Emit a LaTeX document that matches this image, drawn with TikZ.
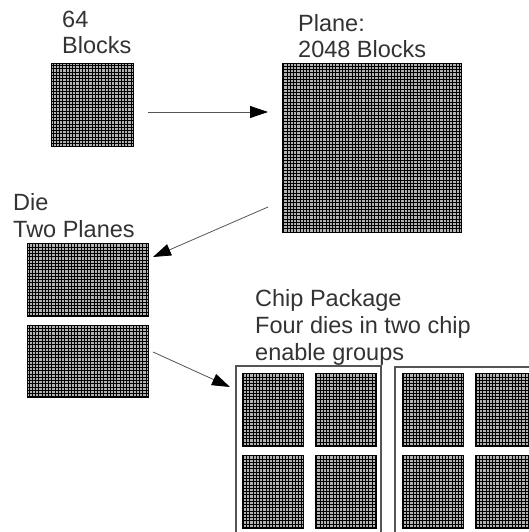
\documentclass[tikz,border=0pt]{standalone}
\usepackage{fontspec}
\setmainfont{Liberation Sans}
\usetikzlibrary{arrows.meta}
\definecolor{txt}{HTML}{333333}
\definecolor{ln}{HTML}{555555}
\tikzset{
  gridbox/.style={draw=black, line width=0.8pt, fill=gray!60, inner sep=0pt, outer sep=0pt,
    path picture={\draw[black, line width=0.6pt, step=3.25pt]
      (path picture bounding box.south west) grid (path picture bounding box.north east);}},
  label/.style={anchor=base west, align=left, inner sep=0pt, text=txt,
    font=\fontsize{23.5}{26.8}\selectfont},
  conn/.style={draw=ln, line width=0.8pt, -{Triangle[length=18pt,width=12pt,fill=black,color=black]}},
  pkg/.style={draw=ln, line width=1.1pt, inner sep=0pt, fill=white}
}
\begin{document}
\begin{tikzpicture}[x=1pt,y=-1pt]
\useasboundingbox (0,0) rectangle (529,532);
\clip (0,0) rectangle (529,532);
\fill[white] (0,0) rectangle (529,532);

% labels (anchored at the baseline of the last line)
\node[label] (l64) at (62,54) {64\\Blocks};
\node[label] (lplane) at (298,58) {Plane:\\2048 Blocks};
\node[label] (ldie) at (13,237) {Die\\Two Planes};
\node[label] (lchip) at (255,360) {Chip Package\\Four dies in two chip\\enable groups};

% blocks
\node[gridbox, minimum width=82pt, minimum height=83pt] (blk) at (92,104.5) {};
\node[gridbox, minimum width=179pt, minimum height=169pt] (plane) at (371.5,147.5) {};
\node[gridbox, minimum width=121pt, minimum height=73pt] (die1) at (87.5,279.5) {};
\node[gridbox, minimum width=121pt, minimum height=72pt] (die2) at (87.5,361) {};

% package boxes
\node[pkg, minimum width=145pt, minimum height=200pt] (pkg1) at (308.5,466) {};
\node[pkg, minimum width=170pt, minimum height=200pt] (pkg2) at (480,467) {};

% dies in package
\foreach \nm/\cx/\cy in {a/272.5/409.5, b/346/409.5, c/272.5/491.5, d/346/491.5,
                         e/432.5/409.5, f/505.5/409.5, g/432.5/491.5, h/505.5/491.5}{
  \node[gridbox, minimum width=61pt, minimum height=73pt] (chip\nm) at (\cx,\cy) {};
}

% connectors
\coordinate (s1) at (148,112);
\coordinate (t1) at (268,112);
\coordinate (s2) at (268,207);
\coordinate (t2) at (153,257);
\coordinate (s3) at (153,352);
\coordinate (t3) at (230,387);
\draw[conn] (s1) -- (t1);
\draw[conn] (s2) -- (t2);
\draw[conn] (s3) -- (t3);
\end{tikzpicture}
\end{document}
